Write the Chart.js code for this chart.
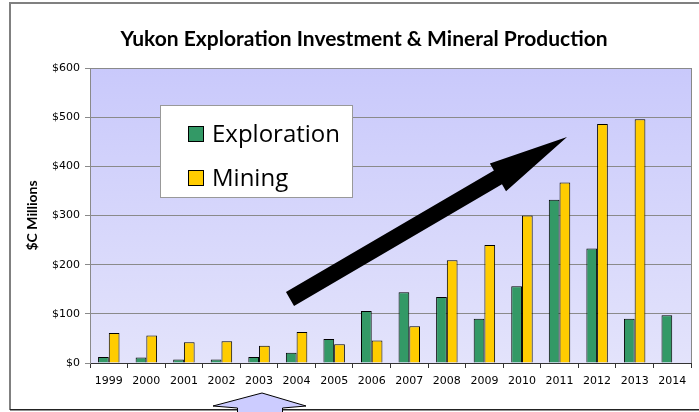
<!DOCTYPE html>
<html>
<head>
<meta charset="utf-8">
<script src="https://cdn.jsdelivr.net/npm/chart.js@4/dist/chart.umd.min.js"></script>
<style>
html,body{margin:0;padding:0;background:#fff;}
#wrap{width:699px;height:412px;position:relative;}
</style>
</head>
<body>
<div id="wrap"><canvas id="c" width="699" height="412"></canvas></div>
<script>
const years = ['1999','2000','2001','2002','2003','2004','2005','2006','2007','2008','2009','2010','2011','2012','2013','2014'];
const exploration = [12, 11, 7, 7, 12, 21, 49, 106, 144, 134, 90, 156, 332, 233, 90, 97];
const mining = [61, 56, 42, 44, 35, 63, 38, 46, 75, 209, 240, 300, 367, 486, 496, null];
const yTicks = [0, 100, 200, 300, 400, 500, 600];
const titleText = 'Yukon Exploration Investment & Mineral Production';
const yTitle = '$C Millions';

const decor = {
  id: 'decor',
  beforeDraw(chart) {
    const ctx = chart.ctx, a = chart.chartArea;
    ctx.save();
    const g = ctx.createLinearGradient(0, a.top, 0, a.bottom);
    g.addColorStop(0, '#c9c9fb');
    g.addColorStop(1, '#e3e3fb');
    ctx.fillStyle = g;
    ctx.fillRect(a.left, a.top, a.right - a.left, a.bottom - a.top);
    ctx.strokeStyle = '#888';
    ctx.lineWidth = 1;
    ctx.beginPath();
    ctx.moveTo(a.right + 0.5, a.top);
    ctx.lineTo(a.right + 0.5, a.bottom);
    ctx.stroke();
    // title
    ctx.fillStyle = '#000';
    ctx.font = 'bold 21px Lato, sans-serif';
    ctx.textAlign = 'center';
    ctx.textBaseline = 'middle';
    ctx.fillText(titleText, 364, 39);
    ctx.restore();
  },
  afterDraw(chart) {
    const ctx = chart.ctx;
    ctx.save();
    // outer frame
    ctx.fillStyle = '#808080';
    ctx.fillRect(9, 2, 699, 2);
    ctx.fillRect(9, 2, 2, 408);
    ctx.fillStyle = '#222';
    ctx.fillRect(10, 409, 699, 1.5);

    // legend
    ctx.fillStyle = '#fff';
    ctx.fillRect(160.5, 105.5, 192, 92);
    ctx.strokeStyle = '#999';
    ctx.lineWidth = 1;
    ctx.strokeRect(160.5, 105.5, 192, 92);
    const ds = chart.data.datasets;
    const rows = [134, 178];
    ds.forEach((d, i) => {
      ctx.fillStyle = d.backgroundColor;
      ctx.fillRect(188.5, rows[i] - 7.5, 15, 15);
      ctx.strokeStyle = '#000';
      ctx.strokeRect(188.5, rows[i] - 7.5, 15, 15);
      ctx.fillStyle = '#000';
      ctx.font = '24px "Open Sans", sans-serif';
      ctx.textBaseline = 'middle';
      ctx.textAlign = 'left';
      ctx.fillText(d.label, 212, rows[i] + 1);
    });

    // big black arrow
    const tail = [290, 299], tip = [567, 137];
    const dx = tip[0] - tail[0], dy = tip[1] - tail[1];
    const L = Math.hypot(dx, dy);
    const ux = dx / L, uy = dy / L, px = -uy, py = ux;
    const sw = 8, hw = 16, hl = 80;
    const bx = tip[0] - ux * hl, by = tip[1] - uy * hl;
    ctx.fillStyle = '#000';
    ctx.beginPath();
    ctx.moveTo(tail[0] + px * sw, tail[1] + py * sw);
    ctx.lineTo(bx + px * sw, by + py * sw);
    ctx.lineTo(bx + px * hw, by + py * hw);
    ctx.lineTo(tip[0], tip[1]);
    ctx.lineTo(bx - px * hw, by - py * hw);
    ctx.lineTo(bx - px * sw, by - py * sw);
    ctx.lineTo(tail[0] - px * sw, tail[1] - py * sw);
    ctx.closePath();
    ctx.fill();

    // bottom up arrow
    ctx.fillStyle = '#ccccff';
    ctx.strokeStyle = '#000';
    ctx.lineWidth = 1;
    ctx.beginPath();
    ctx.moveTo(262, 393);
    ctx.lineTo(306, 406);
    ctx.lineTo(282.5, 408);
    ctx.lineTo(282.5, 420);
    ctx.lineTo(237.5, 420);
    ctx.lineTo(237.5, 408);
    ctx.lineTo(213, 406);
    ctx.closePath();
    ctx.fill();
    ctx.stroke();
    ctx.restore();
  }
};

new Chart(document.getElementById('c'), {
  type: 'bar',
  data: {
    labels: years,
    datasets: [
      { label: 'Exploration', data: exploration, backgroundColor: '#339966', borderColor: '#000', borderWidth: 1 },
      { label: 'Mining', data: mining, backgroundColor: '#ffcc00', borderColor: '#000', borderWidth: 1 }
    ]
  },
  options: {
    responsive: false,
    animation: false,
    devicePixelRatio: 1,
    layout: { padding: { left: 0, right: 8, top: 68, bottom: 0 } },
    datasets: { bar: { categoryPercentage: 0.571, barPercentage: 1.0 } },
    plugins: {
      legend: { display: false },
      tooltip: { enabled: false },
      title: { display: false }
    },
    scales: {
      x: {
        grid: { display: true, drawOnChartArea: false, color: '#333', tickLength: 5, offset: true },
        border: { color: '#333', width: 1 },
        ticks: { color: '#000', font: { family: '"DejaVu Sans", sans-serif', size: 11 }, padding: 7, maxRotation: 0, autoSkip: false },
        afterFit(s) { s.height = 49; }
      },
      y: {
        min: 0, max: 600,
        afterBuildTicks(s) { s.ticks = yTicks.map(v => ({ value: v })); },
        grid: { color: '#8a8a8a', tickLength: 5, tickColor: '#8a8a8a' },
        border: { color: '#8a8a8a', width: 1 },
        ticks: { color: '#000', font: { family: '"DejaVu Sans", sans-serif', size: 11 }, padding: 5, callback: v => '$' + v },
        title: { display: true, text: yTitle, color: '#000', font: { family: 'Lato, sans-serif', size: 14, weight: 'bold' }, padding: { top: 24, bottom: 0 } },
        afterFit(s) { s.width = 90; }
      }
    }
  },
  plugins: [decor]
});
</script>
</body>
</html>
